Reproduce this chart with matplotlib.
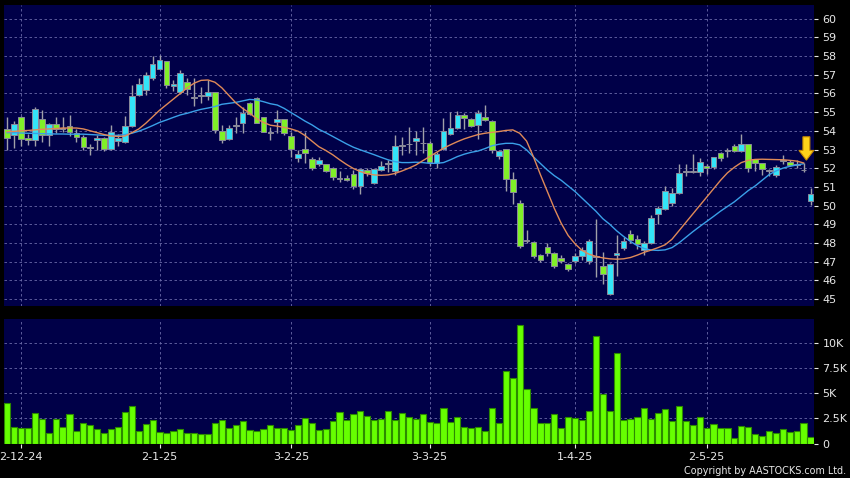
import numpy as np
import matplotlib.pyplot as plt
from matplotlib.patches import FancyArrow

plt.rcParams['font.family'] = 'DejaVu Sans'

# daily candles (one entry per trading day, 28-11-24 .. 26-5-25)
opens = [54.10, 53.80, 54.76, 53.60, 53.50, 54.65, 53.80, 54.36, 54.15, 54.24,
         53.90, 53.69, 53.10, 53.49, 53.63, 53.04, 53.47, 53.40, 54.24, 55.90,
         56.17, 56.84, 57.32, 57.71, 56.42, 56.07, 56.61, 55.77, 55.93, 55.84,
         56.07, 53.97, 53.54, 54.28, 54.40, 55.50, 55.75, 54.73, 53.90, 54.46,
         54.62, 53.73, 52.53, 53.01, 52.50, 52.25, 52.20, 52.00, 51.46, 51.45,
         51.68, 51.05, 51.90, 51.20, 51.90, 52.21, 51.85, 53.20, 53.30, 53.47,
         53.35, 53.37, 52.26, 53.03, 53.83, 54.14, 54.85, 54.62, 54.31, 54.76,
         54.53, 52.67, 53.01, 51.40, 50.12, 48.12, 48.04, 47.35, 47.80, 47.45,
         47.18, 46.88, 47.04, 47.30, 47.04, 47.27, 46.79, 45.27, 47.36, 47.71,
         48.46, 48.20, 47.63, 47.98, 49.55, 49.80, 50.12, 50.66, 51.82, 51.82,
         51.78, 52.10, 52.05, 52.80, 52.92, 53.20, 52.90, 53.30, 52.47, 52.27,
         51.86, 51.64, 52.38, 52.35, 52.20, 51.90, 50.24]
highs = [54.75, 54.55, 54.80, 53.85, 55.30, 55.10, 54.40, 54.75, 54.75, 54.83,
         54.10, 53.76, 53.30, 53.80, 53.65, 54.30, 53.85, 54.80, 56.45, 56.80,
         57.15, 58.03, 58.07, 57.75, 56.70, 57.27, 56.82, 56.80, 56.34, 56.70,
         56.10, 54.30, 54.30, 54.74, 55.30, 55.55, 55.80, 54.75, 54.20, 55.10,
         54.65, 53.96, 53.00, 53.96, 52.60, 52.60, 52.25, 52.05, 51.85, 51.65,
         51.90, 51.94, 52.00, 51.94, 52.40, 52.45, 53.78, 53.69, 54.22, 54.00,
         54.22, 53.45, 52.85, 54.66, 55.00, 55.05, 54.95, 54.70, 55.10, 55.40,
         54.60, 53.00, 53.05, 51.80, 50.30, 48.70, 48.10, 47.40, 48.00, 47.50,
         47.35, 46.95, 47.45, 47.80, 48.20, 49.30, 47.50, 46.95, 48.40, 48.30,
         48.70, 48.40, 48.10, 49.50, 49.95, 51.05, 50.95, 52.20, 52.20, 52.75,
         52.55, 52.20, 52.60, 52.85, 53.10, 53.30, 53.85, 53.30, 52.50, 52.30,
         51.95, 52.15, 52.70, 52.45, 52.45, 52.30, 50.95]
lows = [52.95, 53.10, 53.20, 53.25, 53.20, 53.40, 53.20, 53.90, 53.95, 53.72,
        53.40, 53.00, 52.72, 52.95, 52.90, 52.95, 53.20, 53.35, 54.20, 55.85,
        55.93, 56.70, 57.30, 56.30, 56.15, 55.95, 55.90, 55.33, 55.50, 55.63,
        53.90, 53.37, 53.50, 53.90, 53.90, 54.85, 54.40, 53.93, 53.50, 53.90,
        53.80, 52.62, 52.32, 52.27, 51.90, 52.10, 51.80, 51.37, 51.28, 51.30,
        50.90, 50.60, 51.60, 51.15, 51.85, 51.80, 51.64, 52.70, 52.80, 52.70,
        52.80, 52.10, 52.00, 52.95, 53.75, 54.10, 54.10, 54.20, 53.55, 54.50,
        52.80, 52.50, 50.76, 50.10, 47.75, 48.00, 47.20, 47.00, 47.30, 46.65,
        46.95, 46.50, 46.90, 47.10, 46.85, 46.20, 45.80, 45.20, 46.25, 47.60,
        48.00, 47.70, 47.35, 47.95, 49.00, 49.75, 50.00, 50.60, 51.60, 51.75,
        51.60, 51.70, 51.95, 52.40, 52.60, 52.85, 52.85, 51.80, 51.85, 51.65,
        51.60, 51.55, 52.20, 52.10, 52.00, 51.80, 50.05]
closes = [53.60, 54.35, 53.58, 53.50, 55.18, 53.80, 54.35, 54.08, 54.12, 53.94,
          53.69, 53.15, 53.08, 53.63, 53.04, 53.94, 53.60, 54.24, 55.86, 56.52,
          56.97, 57.59, 57.77, 56.47, 56.50, 57.09, 56.25, 55.75, 55.84, 56.07,
          54.02, 53.49, 54.15, 54.26, 54.95, 54.88, 54.40, 53.93, 53.88, 54.62,
          53.87, 53.03, 52.75, 52.80, 52.00, 52.46, 51.85, 51.52, 51.44, 51.38,
          51.05, 51.94, 51.76, 51.94, 52.14, 52.28, 53.19, 53.19, 53.28, 53.60,
          53.33, 52.32, 52.76, 53.99, 54.17, 54.85, 54.67, 54.27, 54.94, 54.58,
          52.98, 52.94, 51.42, 50.71, 47.84, 48.10, 47.32, 47.09, 47.45, 46.77,
          47.04, 46.60, 47.30, 47.63, 48.11, 47.25, 46.34, 46.86, 47.45, 48.11,
          48.16, 47.93, 47.98, 49.32, 49.86, 50.78, 50.69, 51.76, 51.80, 51.80,
          52.32, 52.00, 52.58, 52.55, 53.00, 52.90, 53.30, 52.00, 52.27, 51.96,
          51.84, 52.08, 52.42, 52.17, 52.18, 51.88, 50.60]

# volume in thousands of shares
volume_k = [4.07, 1.60, 1.57, 1.50, 3.00, 2.43, 1.07, 2.40, 1.63, 2.90,
            1.27, 2.03, 1.80, 1.43, 1.00, 1.43, 1.60, 3.13, 3.70, 1.23,
            1.90, 2.33, 1.13, 1.03, 1.20, 1.43, 1.07, 1.03, 0.93, 0.93,
            2.07, 2.30, 1.53, 1.87, 2.27, 1.33, 1.27, 1.43, 1.80, 1.57,
            1.50, 1.30, 1.83, 2.50, 2.00, 1.30, 1.43, 2.20, 3.10, 2.37,
            2.97, 3.20, 2.77, 2.30, 2.40, 3.23, 2.30, 3.07, 2.67, 2.47,
            2.90, 2.17, 2.00, 3.50, 2.17, 2.67, 1.60, 1.50, 1.60, 1.27,
            3.50, 2.07, 7.27, 6.50, 11.83, 5.40, 3.50, 2.07, 2.07, 2.93,
            1.57, 2.60, 2.57, 2.33, 3.27, 10.77, 4.93, 3.23, 9.00, 2.33,
            2.47, 2.60, 3.57, 2.40, 3.00, 3.47, 2.23, 3.73, 2.27, 1.83,
            2.60, 1.57, 1.90, 1.50, 1.50, 0.50, 1.70, 1.63, 0.90, 0.77,
            1.27, 1.03, 1.43, 1.13, 1.23, 2.00, 0.67]

# moving averages as drawn (orange = short, blue = long), up to the previous day
ma_short = [53.95, 53.97, 54.00, 54.02, 54.05, 54.08, 54.10, 54.12, 54.15, 54.15,
            54.15, 54.10, 54.00, 53.90, 53.80, 53.72, 53.70, 53.72, 53.90, 54.10,
            54.40, 54.75, 55.10, 55.40, 55.70, 56.00, 56.30, 56.55, 56.70, 56.72,
            56.60, 56.30, 55.90, 55.50, 55.20, 54.95, 54.65, 54.45, 54.30, 54.25,
            54.18, 54.10, 53.98, 53.75, 53.45, 53.15, 52.95, 52.72, 52.45, 52.20,
            51.98, 51.82, 51.70, 51.64, 51.62, 51.64, 51.72, 51.85, 52.00, 52.17,
            52.40, 52.62, 52.85, 53.07, 53.25, 53.42, 53.57, 53.69, 53.80, 53.87,
            53.92, 53.96, 54.02, 54.05, 53.87, 53.45, 52.60, 51.65, 50.75, 49.85,
            49.05, 48.40, 47.95, 47.60, 47.40, 47.28, 47.20, 47.15, 47.13, 47.15,
            47.22, 47.35, 47.50, 47.62, 47.75, 47.90, 48.20, 48.65, 49.10, 49.55,
            50.00, 50.45, 50.90, 51.35, 51.75, 52.05, 52.30, 52.42, 52.47, 52.48,
            52.47, 52.46, 52.45, 52.42, 52.38, 52.28]
ma_long = [53.90, 53.90, 53.88, 53.87, 53.86, 53.85, 53.84, 53.83, 53.83, 53.82,
           53.82, 53.82, 53.80, 53.78, 53.76, 53.75, 53.76, 53.80, 53.87, 53.98,
           54.12, 54.28, 54.45, 54.58, 54.72, 54.85, 54.94, 55.05, 55.15, 55.22,
           55.30, 55.42, 55.47, 55.52, 55.60, 55.68, 55.65, 55.56, 55.45, 55.38,
           55.20, 54.97, 54.75, 54.52, 54.32, 54.08, 53.90, 53.70, 53.50, 53.30,
           53.12, 52.98, 52.85, 52.72, 52.58, 52.45, 52.35, 52.30, 52.30, 52.32,
           52.30, 52.26, 52.26, 52.30, 52.45, 52.62, 52.75, 52.85, 52.92, 53.05,
           53.20, 53.28, 53.33, 53.33, 53.25, 52.98, 52.60, 52.25, 51.90, 51.60,
           51.35, 51.05, 50.75, 50.40, 50.05, 49.70, 49.30, 49.00, 48.65, 48.35,
           48.08, 47.85, 47.70, 47.62, 47.60, 47.63, 47.75, 48.00, 48.30, 48.60,
           48.88, 49.15, 49.42, 49.70, 49.95, 50.20, 50.50, 50.80, 51.05, 51.35,
           51.65, 51.85, 52.00, 52.10, 52.17, 52.24]

tick_pos = [2, 22, 41, 61, 82, 101]
tick_labels = ['2-12-24', '2-1-25', '3-2-25', '3-3-25', '1-4-25', '2-5-25']
price_ticks = list(range(45, 61))
vol_ticks = [0, 2500, 5000, 7500, 10000]
vol_tick_labels = ['0', '2.5K', '5K', '7.5K', '10K']

bg = '#000048'
grid_col = '#6a6aa8'
txt_col = '#e8e8e8'
up_col = '#33e4f8'
down_col = '#80f028'
wick_col = '#a0a0a8'

n = len(closes)
idx = np.arange(n)
o = np.array(opens)
c = np.array(closes)

fig = plt.figure(figsize=(8.5, 4.78), dpi=100, facecolor='black')
ax = fig.add_axes([4 / 850, 172 / 478, 810 / 850, 301 / 478], facecolor=bg)
axv = fig.add_axes([4 / 850, 34.5 / 478, 810 / 850, 124.5 / 478], facecolor=bg)

# candles
ax.vlines(idx, lows, highs, color=wick_col, linewidth=1.0, zorder=2)
body_col = np.where(c > o, up_col, down_col).tolist()
doji = np.abs(c - o) < 0.05
for i in np.where(doji)[0]:
    body_col[i] = wick_col
ax.bar(idx, np.maximum(np.abs(c - o), 0.04), bottom=np.minimum(o, c), width=0.82,
       color=body_col, edgecolor='#8a8a9a', linewidth=0.7, zorder=3)

# moving averages
ax.plot(idx[:len(ma_long)], ma_long, color='#3aa0e8', linewidth=1.0, zorder=4)
ax.plot(idx[:len(ma_short)], ma_short, color='#e08a58', linewidth=1.0, zorder=4)

# marker arrow above the latest averages
ax_x = idx[len(ma_short) - 1] + 0.4
tip = ma_short[-1] + 0.15
ax.add_patch(FancyArrow(ax_x, tip + 1.25, 0, -1.25, width=1.0, head_width=2.15,
                        head_length=0.52, length_includes_head=True,
                        fc='#ffd21a', ec='#c88a00', linewidth=0.8, zorder=6))

ax.set_xlim(-0.46, n - 0.5)
ax.set_ylim(44.625, 60.733)
ax.set_yticks(price_ticks)
ax.set_xticks(tick_pos)
ax.set_xticklabels([])
ax.yaxis.tick_right()
ax.tick_params(axis='y', colors=txt_col, length=3, width=0.8, pad=3, labelsize=8)
ax.tick_params(axis='x', length=0)
ax.grid(True, color=grid_col, linestyle=(0, (3, 3)), linewidth=0.6)
ax.set_axisbelow(True)
for s in ax.spines.values():
    s.set_visible(False)

# volume
axv.bar(idx, np.array(volume_k) * 1000, width=0.9, color='#66ff00',
        edgecolor='#2c8a00', linewidth=0.8, zorder=3)
axv.set_xlim(-0.46, n - 0.5)
axv.set_ylim(0, 12430)
axv.set_yticks(vol_ticks)
axv.set_yticklabels(vol_tick_labels)
axv.set_xticks(tick_pos)
axv.set_xticklabels(tick_labels)
axv.yaxis.tick_right()
axv.tick_params(axis='y', colors=txt_col, length=3, width=0.8, pad=3, labelsize=8)
axv.tick_params(axis='x', colors=txt_col, length=3, width=0.8, pad=3, labelsize=8)
axv.grid(True, color=grid_col, linestyle=(0, (3, 3)), linewidth=0.6)
axv.set_axisbelow(True)
for s in axv.spines.values():
    s.set_visible(False)

fig.text(846 / 850, 6.5 / 478, 'Copyright by AASTOCKS.com Ltd.', color=txt_col,
         fontsize=6.9, ha='right', va='center')

fig.savefig('out.png', dpi=100, facecolor='black')
